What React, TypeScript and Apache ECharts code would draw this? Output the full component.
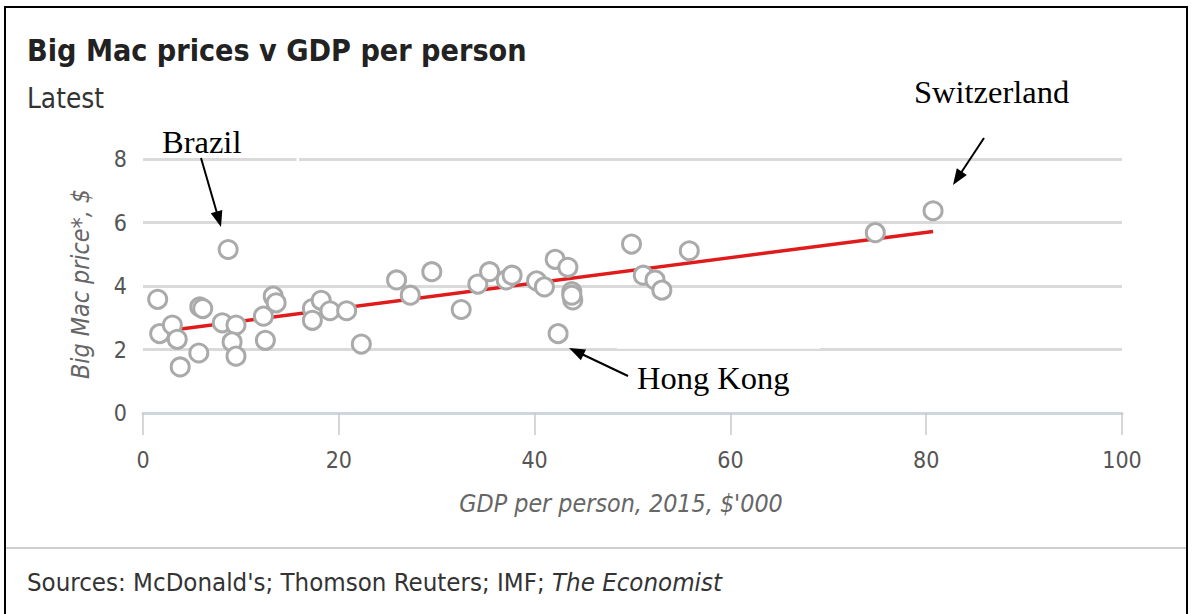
import React, { useEffect, useRef } from "react";
import * as echarts from "echarts";

// GDP per person, 2015, $'000
const gdpPerPerson = [
  1.5, 1.7, 3.0, 3.5, 3.8, 5.7, 5.8, 6.1, 8.7, 8.1, 9.5, 9.1, 9.5, 12.3, 12.5, 13.3, 13.6,
  17.3, 17.3, 18.2, 19.1, 20.8, 22.3, 25.9, 27.3, 29.5, 32.5, 34.2, 35.4, 37.1, 37.7,
  40.2, 41.0, 42.1, 43.4, 43.8, 43.9, 43.8, 42.4, 49.9, 51.1, 52.3, 53.0, 55.8, 74.8, 80.7,
];
// Big Mac price, $
const bigMacPrice = [
  3.58, 2.5, 2.77, 2.32, 1.45, 1.89, 3.34, 3.29, 5.15, 2.84, 2.77, 2.24, 1.79, 3.05, 2.29, 3.68, 3.47,
  3.29, 2.92, 3.55, 3.22, 3.22, 2.17, 4.19, 3.71, 4.45, 3.26, 4.06, 4.45, 4.19, 4.34,
  4.16, 3.97, 4.84, 4.59, 3.82, 3.56, 3.71, 2.5, 5.32, 4.34, 4.19, 3.87, 5.11, 5.68, 6.37,
];
// fitted trend line end points
const trendGdp = [1.5, 80.7];
const trendPrice = [2.55, 5.72];

const title = "Big Mac prices v GDP per person";
const subtitle = "Latest";
const xAxisName = "GDP per person, 2015, $'000";
const yAxisName = "Big Mac price*, $";
const sourcePlain = "Sources: McDonald's; Thomson Reuters; IMF; ";
const sourceItalic = "The Economist";

const SERIF = "'Liberation Serif', 'Times New Roman', serif";

let measureCtx: CanvasRenderingContext2D | null = null;
function ctx() {
  if (!measureCtx) measureCtx = document.createElement("canvas").getContext("2d");
  return measureCtx!;
}
function hasFont(family: string) {
  const c = ctx();
  const sample = "Big Mac prices v GDP per person 0123";
  c.font = `100px '${family}', monospace`;
  const a = c.measureText(sample).width;
  c.font = "100px monospace";
  const b = c.measureText(sample).width;
  return Math.abs(a - b) > 0.5;
}
const SANS_FAMILY = hasFont("DejaVu Sans Condensed") ? "'DejaVu Sans Condensed'" : "'DejaVu Sans'";
const SANS = SANS_FAMILY + ", sans-serif";

function fitSize(text: string, target: number, weight = "normal", style = "normal") {
  const c = ctx();
  c.font = `${style} ${weight} 100px ${SANS}`;
  const w = c.measureText(text).width;
  return Math.round((100 * target) / w * 10) / 10;
}

function arrow(tail: number[], tip: number[]) {
  const dx = tip[0] - tail[0];
  const dy = tip[1] - tail[1];
  const len = Math.sqrt(dx * dx + dy * dy);
  const ux = dx / len;
  const uy = dy / len;
  const headLen = 16;
  const headW = 6;
  const bx = tip[0] - ux * headLen;
  const by = tip[1] - uy * headLen;
  return [
    {
      type: "line",
      shape: { x1: tail[0], y1: tail[1], x2: bx + ux * 2, y2: by + uy * 2 },
      style: { stroke: "#000", lineWidth: 2 },
      z: 100,
    },
    {
      type: "polygon",
      shape: {
        points: [
          [tip[0], tip[1]],
          [bx - uy * headW, by + ux * headW],
          [bx + uy * headW, by - ux * headW],
        ],
      },
      style: { fill: "#000" },
      z: 100,
    },
  ];
}

function label(text: string, x: number, y: number, opts: any = {}) {
  return {
    type: "text",
    x,
    y,
    z: 100,
    rotation: opts.rotation || 0,
    style: {
      text,
      x: 0,
      y: 0,
      fill: opts.fill || "#000",
      fontSize: opts.fontSize || 20,
      fontFamily: opts.fontFamily || SANS,
      fontWeight: opts.fontWeight || "normal",
      fontStyle: opts.fontStyle || "normal",
      align: opts.align || "left",
      verticalAlign: opts.verticalAlign || "middle",
      textAlign: opts.align || "left",
      textVerticalAlign: opts.verticalAlign || "middle",
    },
  };
}

export default function App() {
  const ref = useRef<HTMLDivElement>(null);

  useEffect(() => {
    if (!ref.current) return;
    const chart = echarts.init(ref.current, null, { renderer: "svg" });
    const points = gdpPerPerson.map((g, i) => [g, bigMacPrice[i]]);
    const trend = trendGdp.map((g, i) => [g, trendPrice[i]]);

    const titleSize = fitSize(title, 499, "bold");
    const subSize = fitSize(subtitle, 77);
    const nameSize = fitSize(xAxisName, 323, "normal", "italic");
    const srcSize = fitSize(sourcePlain + sourceItalic, 696);
    const tickSize = Math.min(nameSize, 23);

    const graphic: any[] = [
      {
        type: "rect",
        shape: { x: 5, y: 7, width: 1182, height: 640 },
        style: { fill: "none", stroke: "#000", lineWidth: 2 },
        z: 0,
      },
      {
        type: "line",
        shape: { x1: 6, y1: 548, x2: 1186, y2: 548 },
        style: { stroke: "#cfcfcf", lineWidth: 2 },
      },
      // white edges of the pasted annotation boxes, cutting the gridlines
      { type: "rect", shape: { x: 296.5, y: 156, width: 2.5, height: 6 }, style: { fill: "#fff" }, z: 1 },
      { type: "rect", shape: { x: 617, y: 347, width: 203, height: 1.8 }, style: { fill: "#fff" }, z: 1 },
      label(title, 27, 50, { fontSize: titleSize, fontWeight: "bold", fill: "#222" }),
      label(subtitle, 27, 98, { fontSize: subSize, fill: "#333" }),
      label(xAxisName, 621, 503, { fontSize: nameSize, fontStyle: "italic", fill: "#666", align: "center" }),
      label(yAxisName, 80, 284, {
        fontSize: nameSize,
        fontStyle: "italic",
        fill: "#666",
        align: "center",
        rotation: Math.PI / 2,
      }),
      {
        type: "text",
        x: 27,
        y: 582,
        z: 100,
        style: {
          text: "{a|" + sourcePlain + "}{b|" + sourceItalic + "}",
          x: 0,
          y: 0,
          align: "left",
          verticalAlign: "middle",
          rich: {
            a: { fontSize: srcSize, fontFamily: SANS, fill: "#333", color: "#333" },
            b: { fontSize: srcSize, fontFamily: SANS, fontStyle: "italic", fill: "#333", color: "#333" },
          },
        },
      },
      label("Brazil", 162, 142, { fontSize: 32.5, fontFamily: SERIF }),
      label("Switzerland", 914, 92, { fontSize: 32.5, fontFamily: SERIF }),
      label("Hong Kong", 637, 378, { fontSize: 32.5, fontFamily: SERIF }),
      ...arrow([201, 158], [221, 227]),
      ...arrow([984, 138], [953, 185]),
      ...arrow([628, 376], [569, 348]),
    ];

    chart.setOption({
      animation: false,
      backgroundColor: "#fff",
      grid: { left: 143, right: 71, top: 159, bottom: 201, containLabel: false, outerBoundsMode: "none" },
      xAxis: {
        type: "value",
        min: 0,
        max: 100,
        interval: 20,
        axisLine: { show: true, lineStyle: { color: "#cdd6de", width: 3 } },
        axisTick: { show: true, length: 22, lineStyle: { color: "#c8c8c8", width: 1.5 } },
        axisLabel: { margin: 35, fontSize: tickSize, color: "#555", fontFamily: SANS },
        splitLine: { show: false },
      },
      yAxis: {
        type: "value",
        min: 0,
        max: 8,
        interval: 2,
        axisLine: { show: false },
        axisTick: { show: false },
        axisLabel: { margin: 16, fontSize: tickSize, color: "#555", fontFamily: SANS },
        splitLine: { show: true, lineStyle: { color: "#dadada", width: 3 } },
      },
      series: [
        {
          type: "line",
          data: trend,
          symbol: "none",
          lineStyle: { color: "#e01b1b", width: 3.5 },
          z: 2,
          silent: true,
        },
        {
          type: "scatter",
          data: points,
          symbol: "circle",
          symbolSize: 18,
          itemStyle: { color: "#fff", borderColor: "#aaaaaa", borderWidth: 3, opacity: 1 },
          z: 3,
        },
      ],
      graphic,
    });
    return () => chart.dispose();
  }, []);

  return (
    <div
      ref={ref}
      style={{ position: "absolute", left: 0, top: 0, width: 1193, height: 614, background: "#fff" }}
    />
  );
}
